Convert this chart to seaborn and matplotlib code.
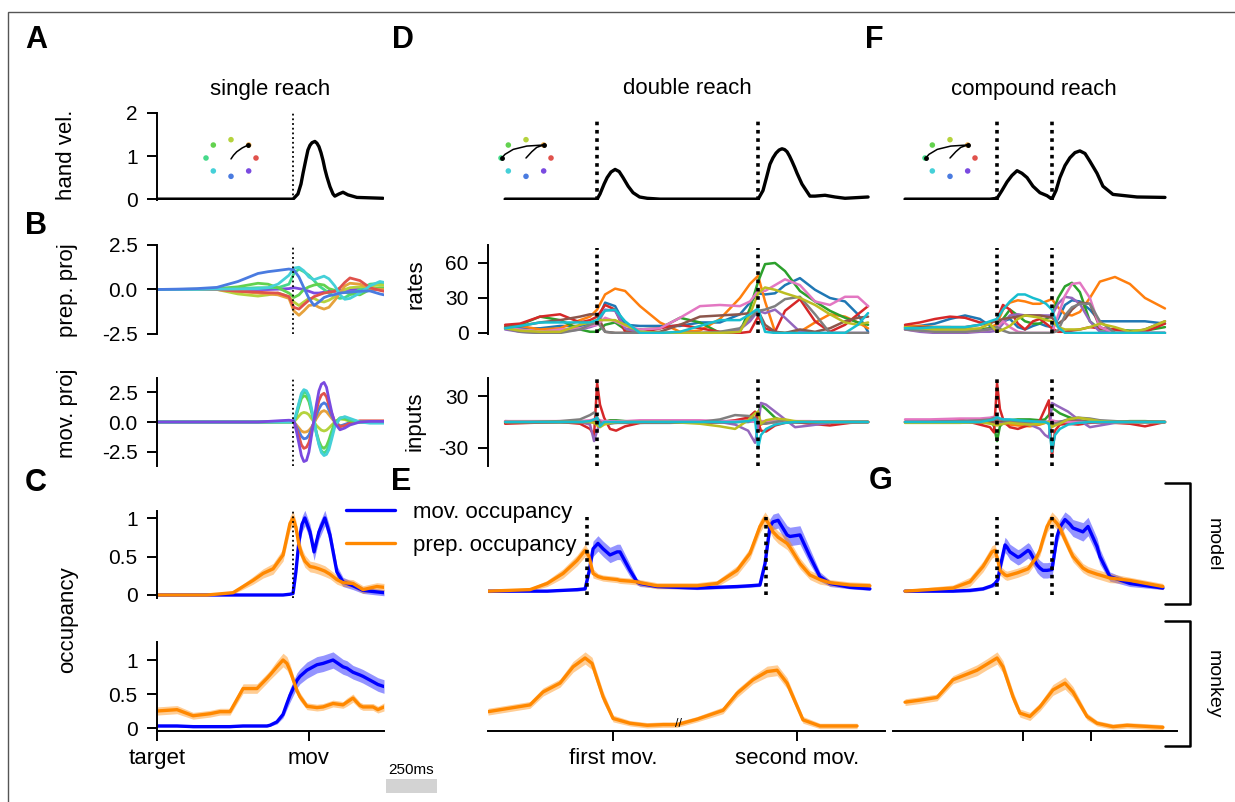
import numpy as np
import matplotlib
matplotlib.use("Agg")
import matplotlib.pyplot as plt
import matplotlib.transforms as mtransforms
from matplotlib.lines import Line2D
from matplotlib.patches import Rectangle
import seaborn as sns

# ============================ DATA ============================
# ---- column 1 : single reach (time in ms, 0 = movement) ----
vel_single_t = [-745, -78, -54, -39, -29, -15, -5, 5, 15, 29, 39, 49, 59, 69, 78, 88, 103, 118, 127, 147, 167, 191, 235, 299, 363]
vel_single = [0, 0, 0.12, 0.35, 0.6, 0.92, 1.14, 1.25, 1.31, 1.34, 1.3, 1.22, 1.08, 0.9, 0.7, 0.52, 0.29, 0.12, 0.07, 0.12, 0.16, 0.1, 0.04, 0.03, 0.02]

proj_t = [-745, -647, -549, -451, -348, -250, -201, -152, -98, -74, -49, -25, 0, 25, 49, 74, 98, 127, 152, 176, 201, 250, 299, 348, 368]
direction_names = ["red", "orange", "yellowgreen", "green", "mint", "cyan", "blue", "purple"]
direction_colors = ["#e0524c", "#e6a23c", "#b5d33d", "#63d24f", "#46d98a", "#45d0d8", "#4a7be0", "#7a4ae0"]
direction_angles = [0, 45, 90, 135, 180, 225, 270, 315]

prep_proj = {
    "purple":      [0, 0, 0, 0, 0, 0, 0, 0.02, 0.05, 0.1, 0.05, 0.0, -0.1, -0.2, -0.2, -0.15, -0.1, -0.1, -0.05, 0, 0, 0, 0, 0, 0],
    "mint":        [0, 0, 0, 0.02, 0.05, 0.1, 0.1, 0.1, 0.3, 0.9, 1.15, 1.0, 0.8, 0.5, 0.2, 0.0, -0.2, -0.4, -0.5, -0.45, -0.3, 0.0, 0.3, 0.35, 0.3],
    "green":       [0, 0, 0.02, 0.05, 0.15, 0.35, 0.3, 0.1, -0.2, -0.45, -0.3, 0.0, 0.15, 0.25, 0.3, 0.25, 0.05, -0.05, -0.1, -0.15, -0.25, -0.3, 0.0, 0.1, 0.1],
    "yellowgreen": [0, 0, 0, 0, -0.25, -0.37, -0.3, -0.2, -0.4, -0.7, -0.9, -0.7, -0.5, -0.5, -0.65, -0.7, -0.6, -0.4, -0.2, 0.0, 0.1, 0.15, 0.2, 0.25, 0.25],
    "orange":      [0, 0, 0, 0, -0.1, -0.2, -0.25, -0.3, -0.5, -1.2, -1.45, -1.2, -0.9, -0.85, -1.0, -1.1, -1.0, -0.6, -0.2, 0.2, 0.35, 0.3, 0.05, 0.0, 0.0],
    "red":         [0, 0, 0, 0, -0.1, -0.15, -0.18, -0.2, -0.4, -1.0, -1.1, -0.85, -0.6, -0.4, -0.3, -0.2, -0.15, -0.1, 0.1, 0.4, 0.65, 0.5, 0.1, -0.05, -0.1],
    "cyan":        [0, 0, 0, 0.02, 0.03, 0.05, 0.1, 0.3, 0.8, 1.2, 1.25, 1.05, 0.7, 0.55, 0.65, 0.75, 0.6, 0.2, -0.3, -0.55, -0.5, -0.2, 0.2, 0.45, 0.4],
    "blue":        [0, 0.02, 0.05, 0.12, 0.45, 0.9, 1.0, 1.07, 1.15, 1.1, 0.7, 0.1, -0.5, -0.9, -0.7, -0.45, -0.35, -0.28, -0.2, -0.17, -0.15, -0.1, -0.08, -0.25, -0.3],
}
mov_t = [-745, -647, -549, -451, -348, -250, -201, -152, -98, -74, -61, -49, -37, -25, -12, 0, 12, 25, 37, 49, 61, 74, 86, 98, 112, 127, 152, 176, 201, 250, 299, 348, 368]
mov_proj = {
    "yellowgreen": [0, 0, 0, 0, 0, 0, 0, 0, 0, 0, 0.25, 0.5, 0.72, 0.8, 0.75, 0.6, 0.3, 0.0, -0.3, -0.5, -0.68, -0.75, -0.68, -0.5, -0.25, 0.0, 0.25, 0.2, 0.05, 0, 0, 0, 0],
    "orange":      [0, 0, 0, 0, 0, 0, 0, 0, 0, 0, -0.25, -0.5, -0.75, -0.85, -0.82, -0.7, -0.45, -0.1, 0.3, 0.6, 0.85, 0.95, 0.85, 0.6, 0.3, 0.0, -0.3, -0.25, -0.1, 0, 0, 0, 0],
    "blue":        [0, 0, 0, 0, 0, 0, 0.02, 0.05, 0.08, 0.05, -0.4, -0.8, -1.2, -1.4, -1.35, -1.1, -0.6, 0.0, 0.6, 1.1, 1.45, 1.6, 1.45, 1.0, 0.5, 0.0, -0.35, -0.2, -0.05, 0, 0, 0, 0],
    "red":         [0, 0, 0, 0, 0, 0, 0, 0.02, 0.05, 0.05, -0.6, -1.2, -1.9, -2.2, -2.1, -1.7, -0.9, 0.1, 1.0, 1.8, 2.25, 2.4, 2.1, 1.4, 0.7, 0.0, -0.4, -0.3, -0.1, 0.1, 0.1, 0.1, 0.1],
    "green":       [0, 0, 0, 0, 0, 0, 0, 0, 0, 0, 0.6, 1.3, 1.95, 2.2, 2.1, 1.7, 0.9, 0.0, -0.9, -1.6, -2.05, -2.2, -2.0, -1.5, -0.75, 0.0, 0.3, 0.3, 0.1, 0, 0, 0, 0],
    "mint":        [0, 0, 0, 0, 0, 0, 0, 0, 0, 0, 0.7, 1.5, 2.2, 2.5, 2.4, 2.0, 1.0, 0.0, -1.0, -1.8, -2.4, -2.6, -2.4, -2.0, -1.1, -0.2, 0.35, 0.4, 0.2, 0, 0, 0, 0],
    "cyan":        [0, 0, 0, 0, 0, 0, 0, 0, 0, 0, 0.8, 1.6, 2.4, 2.7, 2.6, 2.2, 1.2, 0.1, -1.0, -1.9, -2.55, -2.8, -2.7, -2.3, -1.4, -0.4, 0.3, 0.45, 0.3, 0.0, -0.1, -0.1, -0.1],
    "purple":      [0, 0, 0, 0, 0, 0, 0.05, 0.1, 0.15, 0.1, -0.8, -1.8, -2.8, -3.3, -3.2, -2.5, -1.2, 0.2, 1.5, 2.6, 3.15, 3.3, 2.9, 1.9, 0.8, -0.1, -0.65, -0.5, -0.25, 0.0, 0.05, 0.05, 0.05],
}

occ_single_model_t = [-745, -500, -372, -274, -225, -176, -127, -93, -78, -64, -49, -34, -20, 5, 25, 49, 78, 103, 137, 167, 216, 265, 333, 368]
occ_single_model_mov = [0, 0, 0, 0, 0, 0, 0, 0.01, 0.02, 0.3, 0.7, 0.92, 1.0, 0.82, 0.56, 0.82, 1.0, 0.78, 0.3, 0.17, 0.12, 0.06, 0.04, 0.03]
occ_single_model_mov_err = [0.003, 0.003, 0.003, 0.003, 0.003, 0.003, 0.003, 0.003, 0.008, 0.06, 0.08, 0.1, 0.1, 0.1, 0.11, 0.1, 0.1, 0.1, 0.08, 0.06, 0.05, 0.04, 0.04, 0.04]
occ_single_model_prep = [0, 0, 0.03, 0.19, 0.28, 0.34, 0.52, 0.93, 1.0, 0.88, 0.65, 0.52, 0.44, 0.37, 0.36, 0.34, 0.31, 0.27, 0.2, 0.16, 0.15, 0.07, 0.11, 0.1]
occ_single_model_prep_err = [0.005, 0.005, 0.02, 0.05, 0.06, 0.07, 0.08, 0.09, 0.09, 0.09, 0.09, 0.08, 0.08, 0.07, 0.07, 0.07, 0.07, 0.06, 0.06, 0.05, 0.05, 0.05, 0.05, 0.05]

occ_single_monkey_t = [-745, -647, -568, -485, -436, -387, -323, -255, -206, -191, -157, -127, -108, -93, -59, -44, -10, 39, 69, 118, 167, 186, 216, 250, 265, 314, 338, 368]
occ_single_monkey_mov = [0.03, 0.03, 0.02, 0.02, 0.02, 0.02, 0.03, 0.03, 0.03, 0.04, 0.09, 0.2, 0.36, 0.48, 0.7, 0.76, 0.85, 0.93, 0.95, 1.0, 0.9, 0.88, 0.82, 0.78, 0.76, 0.68, 0.64, 0.61]
occ_single_monkey_mov_err = [0.015, 0.015, 0.015, 0.015, 0.015, 0.015, 0.015, 0.015, 0.015, 0.015, 0.03, 0.05, 0.08, 0.1, 0.11, 0.11, 0.12, 0.12, 0.12, 0.12, 0.11, 0.11, 0.1, 0.1, 0.1, 0.1, 0.1, 0.1]
occ_single_monkey_prep = [0.25, 0.27, 0.18, 0.21, 0.24, 0.24, 0.58, 0.58, 0.73, 0.78, 0.9, 1.0, 0.95, 0.85, 0.55, 0.46, 0.32, 0.3, 0.31, 0.36, 0.34, 0.38, 0.44, 0.33, 0.31, 0.31, 0.27, 0.31]
occ_single_monkey_prep_err = [0.06, 0.06, 0.05, 0.05, 0.05, 0.05, 0.07, 0.07, 0.07, 0.07, 0.09, 0.1, 0.1, 0.09, 0.06, 0.06, 0.05, 0.05, 0.05, 0.05, 0.05, 0.06, 0.06, 0.05, 0.05, 0.05, 0.05, 0.06]

# ---- column 2 : double reach (time in ms, 0 = first movement) ----
vel_double_t = [-529, -78, -64, -44, -29, -10, 10, 30, 49, 74, 98, 130, 167, 230, 696, 711, 735, 752, 769, 784, 799, 814, 828, 841, 853, 865, 877, 890, 902, 926, 965, 990, 1039, 1088, 1137, 1250]
vel_double = [0, 0, 0.12, 0.35, 0.5, 0.63, 0.69, 0.64, 0.5, 0.3, 0.15, 0.05, 0.02, 0, 0, 0, 0.2, 0.5, 0.81, 0.96, 1.07, 1.14, 1.17, 1.15, 1.1, 1.0, 0.88, 0.74, 0.6, 0.35, 0.07, 0.07, 0.09, 0.05, 0.02, 0.05]

unit_names = ["blue", "orange", "green", "red", "purple", "brown", "pink", "gray", "olive", "cyan"]
rates_double_t = [-529, -456, -358, -260, -162, -113, -78, -39, 10, 59, 132, 230, 328, 426, 524, 622, 671, 711, 745, 794, 843, 916, 990, 1063, 1137, 1200, 1250]
rates_double = {
    "blue":   [4, 4, 4, 6, 6, 7, 10, 26, 23, 7, 6, 6, 6, 9, 9, 16, 26, 34, 33, 34, 41, 47, 37, 30, 27, 16, 1],
    "orange": [6, 6, 3, 4, 11, 14, 20, 33, 38, 36, 23, 9, 1, 2, 12, 30, 42, 49, 27, 1, 0, 1, 9, 16, 14, 9, 4],
    "green":  [5, 7, 14, 11, 3, 1, 1, 7, 9, 3, 3, 4, 13, 9, 0, 1, 21, 44, 59, 60, 53, 36, 27, 19, 13, 9, 7],
    "red":    [7, 8, 14, 16, 9, 11, 14, 24, 20, 1, 0, 4, 7, 4, 1, 0, 1, 14, 4, 1, 19, 29, 10, 1, 7, 16, 23],
    "purple": [3, 1, 0, 1, 3, 5, 7, 20, 19, 4, 0, 0, 0, 0, 0, 3, 10, 19, 17, 20, 13, 1, 0, 0, 0, 0, 0],
    "brown":  [5, 6, 9, 11, 14, 16, 16, 1, 0, 0, 0, 1, 7, 14, 15, 16, 17, 19, 7, 1, 0, 3, 1, 4, 10, 13, 14],
    "pink":   [4, 3, 1, 3, 4, 6, 7, 13, 10, 6, 3, 4, 13, 23, 24, 23, 27, 36, 36, 41, 46, 41, 27, 24, 31, 31, 23],
    "gray":   [4, 1, 0, 0, 3, 7, 9, 1, 0, 0, 0, 0, 0, 0, 1, 4, 13, 19, 20, 23, 29, 31, 16, 0, 0, 0, 0],
    "olive":  [4, 2, 1, 1, 7, 9, 11, 11, 11, 7, 1, 0, 0, 0, 0, 1, 16, 34, 39, 37, 34, 30, 24, 16, 9, 7, 9],
    "cyan":   [4, 6, 9, 9, 9, 9, 11, 19, 20, 10, 0, 0, 1, 6, 11, 11, 16, 21, 1, 0, 0, 0, 0, 0, 0, 7, 17],
}
inputs_double_t = [-529, -407, -260, -162, -113, -93, -78, -64, -44, -15, 15, 59, 132, 279, 426, 524, 598, 662, 696, 711, 725, 750, 794, 843, 892, 965, 1063, 1161, 1250]
inputs_double = {
    "blue":   [0, 0, 0, 0, 0, 0, 1, 0, 0, 0, -1, -1, -1, -1, 0, 0, 0, 0, 1, 0, 1, 0, 0, 0, 0, 0, 0, 0, 0],
    "orange": [0, 0, 0, 0, 0, 1, -2, -3, -1, 0, 0, 0, 0, 0, 0, 0, 0, 2, 4, -5, -3, 0, 0, 0, 0, 0, 0, 0, 0],
    "green":  [-1, 0, 0, 0, 1, 2, 0, -2, 0, 2, 2, 1, 0, 0, 0, 0, 0, 1, 3, 10, 20, 15, 5, 0, 0, 0, 0, 0, 0],
    "red":    [-2, -1, 0, -2, -8, -15, 45, 20, 5, -8, -10, -5, -1, 0, -1, 0, 2, 5, 12, 0, -10, -11, -4, -1, 0, -2, -4, -1, 0],
    "purple": [1, 0, 0, 0, -3, -22, -10, 0, 0, 0, 0, 0, 0, 0, 0, 0, -3, -10, -24, -5, 22, 20, 12, 3, -6, -4, -1, 0, 0],
    "brown":  [0, 0, 0, 0, 0, 0, 2, 1, 0, 0, 0, 0, 0, 0, 0, 0, 0, 1, 2, 0, 0, 0, 0, 0, 0, 0, 0, 0, 0],
    "pink":   [1, 1, 1, 1, 2, 3, 3, 2, 1, 1, 1, 1, 2, 2, 2, 1, 1, 1, 0, 2, 1, 1, 0, 0, 1, 1, 0, 0, 0],
    "gray":   [0, 0, 1, 3, 8, 11, 5, 0, -2, -2, -1, 0, 0, 0, 0, 3, 8, 7, 5, 0, -2, -2, 0, 2, 0, 0, 0, 0, 0],
    "olive":  [0, 0, 0, 0, 0, -1, -4, -6, -3, -1, 0, 0, 0, 0, -2, -5, -8, 2, 10, 12, -2, 2, 4, 3, 1, 0, 0, 0, 0],
    "cyan":   [0, 0, 0, 0, 1, 3, 5, -5, 0, 0, 0, 0, 0, 0, 0, 0, 0, 1, 3, -30, -15, -8, -3, -1, 0, 0, 0, 0, 0],
}
occ_double_model_t = [-613, -407, -323, -245, -176, -137, -118, -98, -74, -49, -15, 20, 34, 83, 118, 132, 216, 412, 510, 608, 671, 720, 745, 769, 784, 809, 853, 867, 916, 965, 1014, 1063, 1161, 1259]
occ_double_model_mov = [0.05, 0.05, 0.05, 0.06, 0.07, 0.08, 0.3, 0.6, 0.67, 0.6, 0.52, 0.56, 0.56, 0.32, 0.17, 0.15, 0.11, 0.09, 0.1, 0.11, 0.12, 0.13, 0.41, 0.89, 0.95, 0.97, 0.78, 0.76, 0.78, 0.5, 0.24, 0.15, 0.1, 0.08]
occ_double_model_mov_err = [0.01, 0.01, 0.01, 0.01, 0.02, 0.02, 0.06, 0.1, 0.1, 0.1, 0.1, 0.1, 0.1, 0.08, 0.04, 0.04, 0.02, 0.02, 0.02, 0.02, 0.02, 0.02, 0.06, 0.1, 0.1, 0.1, 0.12, 0.12, 0.12, 0.1, 0.06, 0.04, 0.02, 0.02]
occ_double_model_prep = [0.05, 0.07, 0.15, 0.28, 0.45, 0.58, 0.5, 0.28, 0.24, 0.22, 0.21, 0.2, 0.19, 0.18, 0.17, 0.16, 0.12, 0.12, 0.15, 0.32, 0.54, 0.89, 1.0, 0.9, 0.82, 0.75, 0.67, 0.62, 0.41, 0.26, 0.2, 0.16, 0.13, 0.12]
occ_double_model_prep_err = [0.02, 0.02, 0.04, 0.06, 0.07, 0.08, 0.07, 0.06, 0.04, 0.04, 0.04, 0.04, 0.04, 0.04, 0.04, 0.04, 0.04, 0.04, 0.04, 0.06, 0.07, 0.08, 0.08, 0.08, 0.08, 0.08, 0.08, 0.08, 0.07, 0.06, 0.06, 0.04, 0.04, 0.04]
occ_double_monkey_t = [-613, -407, -343, -260, -196, -137, -103, -49, 0, 83, 167, 245, 314, 412, 539, 608, 686, 755, 804, 853, 931, 1014, 1112, 1196]
occ_double_monkey_prep = [0.24, 0.34, 0.53, 0.66, 0.9, 1.03, 0.95, 0.46, 0.14, 0.07, 0.04, 0.05, 0.05, 0.13, 0.26, 0.51, 0.71, 0.83, 0.85, 0.66, 0.12, 0.03, 0.03, 0.03]
occ_double_monkey_prep_err = [0.05, 0.05, 0.06, 0.06, 0.08, 0.09, 0.09, 0.08, 0.05, 0.04, 0.04, 0.04, 0.04, 0.04, 0.05, 0.06, 0.06, 0.08, 0.08, 0.08, 0.05, 0.04, 0.04, 0.04]

# ---- column 3 : compound reach (time in ms) ----
vel_compound_t = [-578, -162, -127, -103, -78, -54, -29, -5, 20, 49, 83, 118, 142, 162, 181, 206, 230, 255, 279, 304, 328, 363, 392, 441, 559, 696]
vel_compound = [0, 0, 0.02, 0.2, 0.4, 0.55, 0.66, 0.6, 0.5, 0.3, 0.15, 0.08, 0.0, 0.2, 0.5, 0.78, 0.96, 1.08, 1.12, 1.06, 0.88, 0.6, 0.3, 0.11, 0.05, 0.04]
rates_compound_t = [-578, -505, -431, -358, -284, -211, -162, -127, -98, -64, -25, 10, 49, 83, 113, 142, 172, 206, 240, 279, 328, 377, 451, 524, 598, 696]
rates_compound = {
    "blue":   [5, 6, 8, 12, 15, 12, 6, 5, 10, 12, 5, 3, 6, 8, 6, 5, 12, 24, 28, 27, 20, 10, 10, 10, 10, 8],
    "orange": [6, 6, 5, 5, 4, 3, 4, 8, 20, 26, 28, 27, 25, 25, 27, 29, 22, 16, 15, 18, 30, 44, 48, 42, 30, 21],
    "green":  [4, 4, 3, 3, 3, 3, 4, 5, 12, 20, 15, 10, 8, 8, 12, 15, 30, 40, 43, 35, 10, 3, 3, 2, 2, 5],
    "red":    [7, 9, 12, 14, 13, 9, 8, 12, 24, 20, 8, 3, 10, 12, 8, 4, 1, 1, 2, 3, 5, 4, 3, 1, 1, 8],
    "purple": [3, 1, 0, 0, 0, 1, 1, 2, 8, 15, 16, 15, 15, 15, 15, 15, 25, 31, 30, 25, 10, 1, 0, 0, 0, 0],
    "brown":  [5, 5, 5, 5, 5, 7, 9, 10, 12, 13, 14, 15, 15, 15, 14, 13, 8, 12, 20, 26, 25, 5, 0, 0, 3, 10],
    "pink":   [3, 2, 1, 1, 1, 2, 3, 5, 10, 5, 1, 0, 0, 0, 0, 0, 15, 32, 42, 43, 30, 5, 0, 0, 0, 0],
    "gray":   [3, 2, 1, 1, 1, 2, 3, 5, 2, 0, 0, 0, 0, 0, 0, 0, 2, 15, 22, 25, 25, 10, 0, 0, 0, 0],
    "olive":  [5, 4, 3, 3, 3, 4, 8, 1, 3, 6, 12, 15, 14, 13, 11, 10, 5, 3, 3, 3, 5, 8, 5, 1, 3, 10],
    "cyan":   [4, 4, 5, 5, 5, 7, 10, 12, 20, 27, 33, 33, 30, 28, 25, 20, 5, 0, 0, 0, 0, 0, 0, 0, 0, 0],
}
inputs_compound_t = [-578, -455, -309, -211, -162, -142, -127, -113, -93, -64, -25, 34, 83, 108, 127, 142, 157, 181, 221, 270, 328, 377, 451, 524, 598, 696]
inputs_compound = {
    "blue":   [0, 0, 0, 0, 0, 0, 1, 0, 0, 0, 0, 0, 0, 0, 0, 0, 0, 0, 0, 0, 0, 0, 0, 0, 0, 0],
    "orange": [0, 0, 0, -1, -1, 0, -2, -2, -2, -3, -4, -5, -3, -1, 0, -4, -2, 0, 1, 2, 0, 0, 0, 0, 0, 0],
    "green":  [0, 0, 1, 2, 4, -5, -22, -5, 0, 2, 3, 3, 2, 3, 8, 16, 14, 10, 6, 2, 0, 0, 0, 1, 1, 0],
    "red":    [0, 1, 3, -3, -6, -12, 45, 15, 0, -6, -8, -3, 2, 15, 25, -40, -10, -3, -2, -3, -1, 0, -1, -2, -5, 0],
    "purple": [0, 0, 0, 0, 0, 0, 0, 0, 0, 0, -1, -3, -8, -15, -18, 22, 20, 17, 12, 3, -6, -4, -1, 0, 0, 0],
    "brown":  [0, 0, 0, 0, 0, 0, 2, 1, 1, 1, 0, 0, 0, 0, 0, -1, 0, 0, 2, 1, 0, 0, 0, 0, 0, 0],
    "pink":   [3, 3, 4, 4, 5, 6, 4, 3, 3, 2, 1, 0, 0, 0, 0, 2, 1, 0, 0, 0, 0, 0, 0, 0, 0, 0],
    "gray":   [0, 0, 1, 2, 3, 5, 4, 3, 2, 1, 0, 0, 1, 0, -2, -3, -2, 0, 3, 5, 4, 2, 1, 0, 0, 0],
    "olive":  [-1, -1, -1, 0, -2, -3, -4, -3, -2, -1, -2, -3, -2, -1, 0, -6, -4, -2, 3, 5, 3, 1, 0, 0, 0, 0],
    "cyan":   [0, 0, 0, 0, 2, 3, 6, 4, 3, 3, 2, 1, 0, 0, -2, -34, -15, -8, -3, -1, 0, 0, 0, 0, 0, 0],
}
occ_comp_model_t = [-578, -343, -260, -196, -152, -137, -123, -113, -88, -78, -64, -25, -15, 25, 34, 69, 83, 98, 118, 142, 167, 181, 206, 230, 245, 294, 319, 363, 377, 426, 524, 686]
occ_comp_model_mov = [0.05, 0.05, 0.06, 0.08, 0.12, 0.15, 0.2, 0.35, 0.65, 0.62, 0.56, 0.49, 0.5, 0.58, 0.56, 0.39, 0.35, 0.32, 0.32, 0.33, 0.76, 0.88, 0.98, 0.92, 0.87, 0.82, 0.89, 0.63, 0.5, 0.24, 0.15, 0.09]
occ_comp_model_mov_err = [0.01, 0.01, 0.02, 0.02, 0.02, 0.04, 0.06, 0.08, 0.1, 0.1, 0.1, 0.1, 0.1, 0.1, 0.1, 0.1, 0.1, 0.1, 0.1, 0.1, 0.1, 0.1, 0.1, 0.11, 0.11, 0.12, 0.12, 0.11, 0.1, 0.06, 0.04, 0.02]
occ_comp_model_prep = [0.05, 0.09, 0.17, 0.37, 0.56, 0.58, 0.45, 0.32, 0.26, 0.25, 0.26, 0.29, 0.3, 0.34, 0.37, 0.5, 0.58, 0.72, 0.89, 1.0, 0.93, 0.87, 0.72, 0.58, 0.5, 0.35, 0.31, 0.27, 0.26, 0.22, 0.19, 0.11]
occ_comp_model_prep_err = [0.02, 0.04, 0.06, 0.07, 0.08, 0.08, 0.07, 0.06, 0.06, 0.06, 0.06, 0.06, 0.06, 0.06, 0.06, 0.06, 0.07, 0.07, 0.08, 0.08, 0.08, 0.08, 0.07, 0.07, 0.07, 0.06, 0.06, 0.06, 0.06, 0.06, 0.04, 0.04]
occ_comp_monkey_t = [-578, -505, -421, -343, -225, -176, -127, -98, -49, -15, 34, 83, 147, 206, 245, 314, 363, 441, 510, 686]
occ_comp_monkey_prep = [0.38, 0.41, 0.45, 0.71, 0.85, 0.94, 1.03, 0.9, 0.46, 0.22, 0.17, 0.31, 0.56, 0.66, 0.53, 0.17, 0.07, 0.02, 0.04, 0.01]
occ_comp_monkey_prep_err = [0.05, 0.05, 0.05, 0.06, 0.08, 0.08, 0.09, 0.09, 0.08, 0.06, 0.06, 0.06, 0.08, 0.09, 0.08, 0.05, 0.04, 0.04, 0.04, 0.04]

# event times (ms)
onset_single = [-78]
onset_double_model = [-78, 711]
onset_double_occ = [-127, 750]
onset_compound = [-127, 142]
ticks_single = [-745, 0]
ticks_single_labels = ["target", "mov"]
ticks_double = [0, 902]
ticks_double_labels = ["first mov.", "second mov."]
ticks_compound = [0, 333]
scalebar_ms = 250

# reach trajectories in the small target insets (unit circle coordinates)
traj_single = [([0.0, 0.1, 0.23, 0.45, 0.7], [-0.05, 0.15, 0.34, 0.55, 0.72])]
traj_double = [([0.0, 0.23, 0.43, 0.7], [0.0, 0.34, 0.58, 0.71]),
               ([0.7, 0.03, -0.51, -0.84, -0.97], [0.71, 0.65, 0.47, 0.2, 0.0])]

# ============================ STYLE ============================
sns.set_theme(style="ticks", rc={"axes.edgecolor": "black", "xtick.color": "black",
                                 "ytick.color": "black", "text.color": "black",
                                 "axes.labelcolor": "black"})
plt.rcParams['font.family'] = ['Liberation Sans', 'DejaVu Sans']
plt.rcParams['axes.unicode_minus'] = False

MOV_C = "#0000ff"
PREP_C = "#ff8800"
tab = dict(zip(unit_names, sns.color_palette("tab10", 10)))
dcol = dict(zip(direction_names, direction_colors))

W, H = 1235, 802
fig = plt.figure(figsize=(W / 100, H / 100), dpi=100)


def add_ax(l, t, r, b, xl, yl):
    ax = fig.add_axes([l / W, 1 - b / H, (r - l) / W, (b - t) / H])
    ax.set_facecolor('none')
    for s in ax.spines.values():
        s.set_visible(False)
        s.set_linewidth(1.4)
    ax.set_xlim(*xl)
    ax.set_ylim(*yl)
    ax.set_xticks([])
    ax.set_yticks([])
    ax.tick_params(axis='y', labelsize=15, length=7, width=1.4, pad=7)
    ax.tick_params(axis='x', labelsize=16, length=7, width=1.4, pad=5)
    return ax


def left_axis(ax, ticks, labels):
    ax.spines['left'].set_visible(True)
    ax.set_yticks(ticks)
    ax.set_yticklabels(labels)


def bottom_axis(ax, ticks, labels):
    ax.spines['bottom'].set_visible(True)
    ax.set_xticks(ticks)
    ax.set_xticklabels(labels)


def line(ax, x, y, color, lw):
    sns.lineplot(x=np.asarray(x, float), y=np.asarray(y, float), ax=ax, color=color,
                 linewidth=lw, estimator=None, sort=False, legend=False)


def band(ax, x, y, err, color):
    x = np.asarray(x, float)
    y = np.asarray(y, float)
    e = np.asarray(err, float)
    ax.fill_between(x, y - e, y + e, color=color, alpha=0.42, lw=0)
    line(ax, x, y, color, 2.4)


def finish(ax, xl, yl):
    ax.set_xlim(*xl)
    ax.set_ylim(*yl)
    ax.set_xlabel("")
    ax.set_ylabel("")


def dotted(ax, xs, lo, hi, thick):
    if thick:
        ax.vlines(xs, lo, hi, colors='black', linestyles=(0, (1, 1.3)), linewidth=2.6, zorder=5)
    else:
        ax.vlines(xs, lo, hi, colors='black', linestyles=(0, (1, 1.6)), linewidth=1.3, zorder=5)


def reach_inset(cx, cy, trajs):
    ax = fig.add_axes([(cx - 30) / W, 1 - (cy + 22) / H, 60 / W, 44 / H])
    ax.set_facecolor('none')
    ax.axis('off')
    ang = np.deg2rad(direction_angles)
    sns.scatterplot(x=np.cos(ang), y=np.sin(ang), hue=direction_names, palette=dcol,
                    s=16, linewidth=0, legend=False, ax=ax)
    for tx, ty in trajs:
        ax.plot(tx, ty, color='black', lw=1.1)
        ax.plot(tx[-1:], ty[-1:], 'o', color='black', ms=2.5)
    ax.set_xlim(-1.2, 1.2)
    ax.set_ylim(-1.2, 1.2)


C1, XL1 = (157, 384), (-745, 368)
C2, XL2 = (488, 885), (-613, 1333)
C3, XL3 = (893, 1177), (-637, 755)
R_VEL, YL_VEL = (113, 200), (-0.02, 2.0)
R_MID = (245, 334)
R_LOW = (378, 466)
R_O1, YL_O1 = (511, 598), (-0.039, 1.091)
R_O2, YL_O2 = (642, 731), (-0.044, 1.265)
YL_PREP, YL_MOV = (-2.5, 2.5), (-3.67, 3.67)
YL_RATES, YL_IN = (-0.9, 75.4), (-50.8, 50.8)

# ---------------- column 1 ----------------
ax = add_ax(C1[0], R_VEL[0], C1[1], R_VEL[1], XL1, YL_VEL)
line(ax, vel_single_t, vel_single, 'black', 2.4)
dotted(ax, onset_single, YL_VEL[0], YL_VEL[1], False)
finish(ax, XL1, YL_VEL)
left_axis(ax, [0, 1, 2], ['0', '1', '2'])
reach_inset(231, 158, traj_single)

ax = add_ax(C1[0], R_MID[0], C1[1], R_MID[1], XL1, YL_PREP)
for k, v in prep_proj.items():
    line(ax, proj_t, v, dcol[k], 2.0)
dotted(ax, onset_single, YL_PREP[0], YL_PREP[1], False)
finish(ax, XL1, YL_PREP)
left_axis(ax, [-2.5, 0, 2.5], ['-2.5', '0.0', '2.5'])

ax = add_ax(C1[0], R_LOW[0], C1[1], R_LOW[1], XL1, YL_MOV)
for k, v in mov_proj.items():
    line(ax, mov_t, v, dcol[k], 2.0)
dotted(ax, onset_single, YL_MOV[0], YL_MOV[1], False)
finish(ax, XL1, YL_MOV)
left_axis(ax, [-2.5, 0, 2.5], ['-2.5', '0.0', '2.5'])

ax = add_ax(C1[0], R_O1[0], C1[1], R_O1[1], XL1, YL_O1)
band(ax, occ_single_model_t, occ_single_model_mov, occ_single_model_mov_err, MOV_C)
band(ax, occ_single_model_t, occ_single_model_prep, occ_single_model_prep_err, PREP_C)
dotted(ax, onset_single, YL_O1[0], YL_O1[1], False)
finish(ax, XL1, YL_O1)
left_axis(ax, [0, 0.5, 1], ['0', '0.5', '1'])

ax_c2 = add_ax(C1[0], R_O2[0], C1[1], R_O2[1], XL1, YL_O2)
band(ax_c2, occ_single_monkey_t, occ_single_monkey_mov, occ_single_monkey_mov_err, MOV_C)
band(ax_c2, occ_single_monkey_t, occ_single_monkey_prep, occ_single_monkey_prep_err, PREP_C)
finish(ax_c2, XL1, YL_O2)
left_axis(ax_c2, [0, 0.5, 1], ['0', '0.5', '1'])
bottom_axis(ax_c2, ticks_single, ticks_single_labels)
# 250 ms scale bar
trans = mtransforms.blended_transform_factory(ax_c2.transData, ax_c2.transAxes)
ax_c2.add_patch(Rectangle((377, -0.70), scalebar_ms, 0.16, transform=trans,
                          facecolor='#d3d3d3', edgecolor='none', clip_on=False))
ax_c2.text(377 + scalebar_ms / 2, -0.44, "250ms", transform=trans, ha='center', va='center',
           fontsize=11, clip_on=False)

# ---------------- column 2 ----------------
ax = add_ax(C2[0], R_VEL[0], C2[1], R_VEL[1], XL2, YL_VEL)
line(ax, vel_double_t, vel_double, 'black', 2.4)
dotted(ax, onset_double_model, -0.02, 1.9, True)
finish(ax, XL2, YL_VEL)
reach_inset(526, 158, traj_double)

ax = add_ax(C2[0], R_MID[0], C2[1], R_MID[1], XL2, YL_RATES)
for k in unit_names:
    line(ax, rates_double_t, rates_double[k], tab[k], 1.8)
dotted(ax, onset_double_model, 0, 73, True)
finish(ax, XL2, YL_RATES)
left_axis(ax, [0, 30, 60], ['0', '30', '60'])

ax = add_ax(C2[0], R_LOW[0], C2[1], R_LOW[1], XL2, YL_IN)
for k in unit_names:
    line(ax, inputs_double_t, inputs_double[k], tab[k], 1.8)
dotted(ax, onset_double_model, YL_IN[0], YL_IN[1], True)
finish(ax, XL2, YL_IN)
left_axis(ax, [-30, 30], ['-30', '30'])

ax = add_ax(C2[0], R_O1[0], C2[1], R_O1[1], XL2, YL_O1)
band(ax, occ_double_model_t, occ_double_model_mov, occ_double_model_mov_err, MOV_C)
band(ax, occ_double_model_t, occ_double_model_prep, occ_double_model_prep_err, PREP_C)
dotted(ax, onset_double_occ, 0.0, 1.01, True)
finish(ax, XL2, YL_O1)

ax = add_ax(C2[0], R_O2[0], C2[1], R_O2[1], XL2, YL_O2)
band(ax, occ_double_monkey_t, occ_double_monkey_prep, occ_double_monkey_prep_err, PREP_C)
finish(ax, XL2, YL_O2)
bottom_axis(ax, ticks_double, ticks_double_labels)
ax.text(319, 0.06, "//", fontsize=9, ha='center', va='center')

# ---------------- column 3 ----------------
ax = add_ax(C3[0], R_VEL[0], C3[1], R_VEL[1], XL3, YL_VEL)
line(ax, vel_compound_t, vel_compound, 'black', 2.4)
dotted(ax, onset_compound, -0.02, 1.9, True)
finish(ax, XL3, YL_VEL)
reach_inset(950, 158, traj_double)

ax = add_ax(C3[0], R_MID[0], C3[1], R_MID[1], XL3, YL_RATES)
for k in unit_names:
    line(ax, rates_compound_t, rates_compound[k], tab[k], 1.8)
dotted(ax, onset_compound, 0, 73, True)
finish(ax, XL3, YL_RATES)

ax = add_ax(C3[0], R_LOW[0], C3[1], R_LOW[1], XL3, YL_IN)
for k in unit_names:
    line(ax, inputs_compound_t, inputs_compound[k], tab[k], 1.8)
dotted(ax, onset_compound, YL_IN[0], YL_IN[1], True)
finish(ax, XL3, YL_IN)

ax = add_ax(C3[0], R_O1[0], C3[1], R_O1[1], XL3, YL_O1)
band(ax, occ_comp_model_t, occ_comp_model_mov, occ_comp_model_mov_err, MOV_C)
band(ax, occ_comp_model_t, occ_comp_model_prep, occ_comp_model_prep_err, PREP_C)
dotted(ax, onset_compound, 0.0, 1.01, True)
finish(ax, XL3, YL_O1)

ax = add_ax(C3[0], R_O2[0], C3[1], R_O2[1], XL3, YL_O2)
band(ax, occ_comp_monkey_t, occ_comp_monkey_prep, occ_comp_monkey_prep_err, PREP_C)
finish(ax, XL3, YL_O2)
bottom_axis(ax, ticks_compound, ['', ''])

# ---------------- texts ----------------
def ftext(x, y, s, **kw):
    fig.text(x / W, 1 - y / H, s, **kw)

for letter, (x, y) in {"A": (36, 40), "B": (36, 226), "C": (36, 483), "D": (403, 40),
                       "E": (401, 482), "F": (874, 40), "G": (881, 481)}.items():
    ftext(x, y, letter, fontsize=22, fontweight='bold', ha='center', va='center')

ftext(270, 90, "single reach", fontsize=16, ha='center', va='center')
ftext(687, 89, "double reach", fontsize=16, ha='center', va='center')
ftext(1034, 89, "compound reach", fontsize=16, ha='center', va='center')

ftext(66, 155, "hand vel.", fontsize=16, rotation=90, ha='center', va='center')
ftext(67, 290, "prep. proj", fontsize=16, rotation=90, ha='center', va='center')
ftext(67, 413, "mov. proj", fontsize=16, rotation=90, ha='center', va='center')
ftext(68, 620, "occupancy", fontsize=16, rotation=90, ha='center', va='center')
ftext(416, 284, "rates", fontsize=16, rotation=90, ha='center', va='center')
ftext(415, 421, "inputs", fontsize=16, rotation=90, ha='center', va='center')
ftext(1213, 545, "model", fontsize=14, rotation=270, ha='center', va='center')
ftext(1213, 684, "monkey", fontsize=14, rotation=270, ha='center', va='center')

# brackets
for top, bot in [(483, 604), (621, 746)]:
    fig.add_artist(Line2D([1165 / W, 1190 / W, 1190 / W, 1165 / W],
                          [1 - top / H, 1 - top / H, 1 - bot / H, 1 - bot / H],
                          color='black', lw=1.8, transform=fig.transFigure))

# outer frame (top and left edges visible)
fig.add_artist(Rectangle((8 / W, -0.1), 2.0, 1.1 - 12.5 / H, transform=fig.transFigure,
                         fill=False, edgecolor='#555555', lw=1.0))

# legend
handles = [Line2D([], [], color=MOV_C, lw=2.4), Line2D([], [], color=PREP_C, lw=2.4)]
fig.legend(handles, ["mov. occupancy", "prep. occupancy"], loc='upper left',
           bbox_to_anchor=(346 / W, 1 - 502 / H), frameon=False, fontsize=16,
           handlelength=2.2, handletextpad=0.8, labelspacing=0.55,
           borderpad=0, borderaxespad=0)

fig.savefig("out.png", dpi=100)
